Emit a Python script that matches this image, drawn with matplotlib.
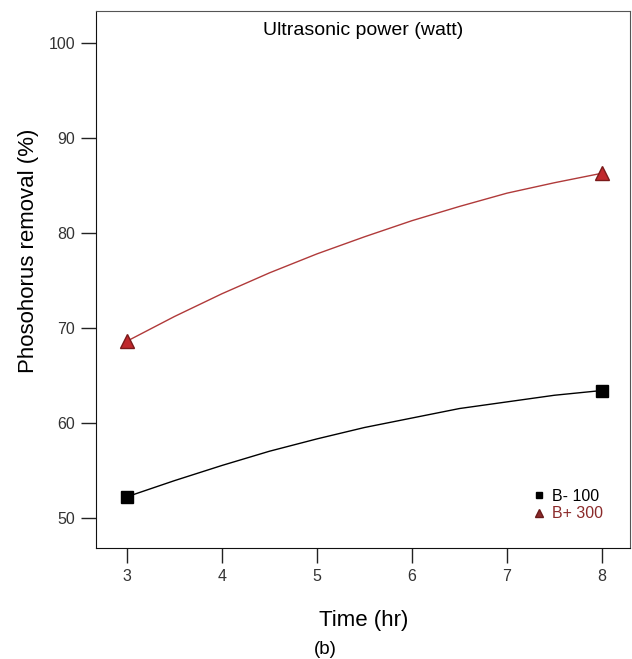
import matplotlib
matplotlib.use("Agg")
import matplotlib.pyplot as plt
from matplotlib.lines import Line2D

plt.rcParams['font.family'] = ['Liberation Sans', 'DejaVu Sans']

# Data (fitted response curves)
time_hr = [3, 3.5, 4, 4.5, 5, 5.5, 6, 6.5, 7, 7.5, 8]
b_low_100 = [52.2, 53.9, 55.5, 57.0, 58.3, 59.5, 60.5, 61.5, 62.2, 62.9, 63.4]
b_high_300 = [68.6, 71.2, 73.6, 75.8, 77.8, 79.6, 81.3, 82.8, 84.2, 85.3, 86.3]
labels = ["B- 100", "B+ 300"]
x_ticks = [3, 4, 5, 6, 7, 8]
y_ticks = [50, 60, 70, 80, 90, 100]

fig = plt.figure(figsize=(6.32, 6.59), dpi=100)
ax = fig.add_axes([96/632, 1-548/659, 534/632, 537/659])

red_line = '#b03a3a'
ax.plot(time_hr, b_low_100, color='black', lw=1.0, marker='s', markevery=[0, len(time_hr)-1],
        ms=9, mfc='black', mec='black')
ax.plot(time_hr, b_high_300, color=red_line, lw=1.0, marker='^', markevery=[0, len(time_hr)-1],
        ms=10, mfc='#c0282c', mec='#7a1a1a')

ax.set_xlim(2.674, 8.295)
ax.set_ylim(46.8, 103.4)
ax.set_xticks(x_ticks)
ax.set_yticks(y_ticks)
ax.tick_params(axis='both', direction='out', length=11, width=1, colors='#222222',
               labelcolor='#333333', labelsize=11.5, pad=4)

for s in ['left', 'bottom']:
    ax.spines[s].set_color('#111111')
for s in ['top', 'right']:
    ax.spines[s].set_color('#555555')

ax.text(0.5, 0.963, "Ultrasonic power (watt)", transform=ax.transAxes,
        ha='center', va='center', fontsize=14, color='black')

ax.set_ylabel("Phosohorus removal (%)", fontsize=16)
ax.yaxis.set_label_coords(-0.107, 0.553)
ax.set_xlabel("Time (hr)", fontsize=16)
ax.xaxis.set_label_coords(0.502, -0.116)
fig.text(325/632, 1-650/659, "(b)", ha='center', va='center', fontsize=13.5)

handles = [
    Line2D([], [], ls='none', marker='s', ms=5, mfc='black', mec='black'),
    Line2D([], [], ls='none', marker='^', ms=6, mfc='#8b2a2a', mec='#6a1a1a'),
]
ax.legend(handles, labels, loc='center left', bbox_to_anchor=(0.80, 0.080),
          frameon=False, handlelength=0.6, handletextpad=0.5, labelspacing=0.15,
          fontsize=11.5, labelcolor=['black', '#8b2a2a'], borderpad=0.2)

fig.savefig("out.png", dpi=100)
